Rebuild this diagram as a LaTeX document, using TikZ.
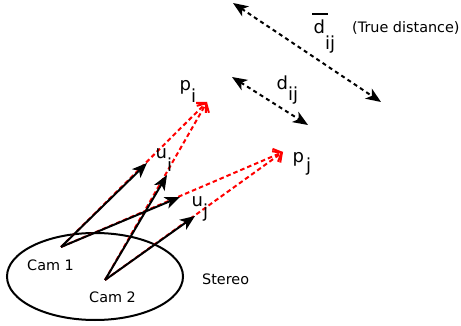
\documentclass[tikz,border=0pt]{standalone}
\usepackage{fontspec}
\setmainfont{DejaVu Sans}
\usetikzlibrary{arrows.meta,calc}
\begin{document}
\begin{tikzpicture}[x=1pt,y=-1pt,
  camray/.style={line width=2pt,-{Stealth[length=15pt,width=12pt,inset=4pt]}},
  redray/.style={red,line width=2pt,dash pattern=on 4.5pt off 3pt,-{Straight Barb[length=7pt,width=14pt,line width=2pt]}},
  distarrow/.style={line width=2pt,dash pattern=on 4pt off 3.5pt,{Stealth[length=15pt,width=12pt,inset=4pt]}-{Stealth[length=15pt,width=12pt,inset=4pt]}},
  small/.style={inner sep=0pt,anchor=base west,font=\fontsize{14.4}{16}\selectfont},
  big/.style={inner sep=0pt,anchor=base west,font=\fontsize{18}{20}\selectfont}]
\useasboundingbox (0,0) rectangle (461,326);
% stereo rig
\draw[line width=2pt] (95,276.5) ellipse [x radius=88, y radius=43.5];
\coordinate (cam1) at (61,247);
\coordinate (cam2) at (105,280);
\coordinate (pi) at (207,102);
\coordinate (pj) at (283,152);
\coordinate (ui1) at (147,163);
\coordinate (ui2) at (167,175);
\coordinate (uj1) at (180,197);
\coordinate (uj2) at (195,216);
% red rays
\draw[redray] (cam1) -- (pi);
\draw[redray] (cam2) -- (pi);
\draw[redray] (cam1) -- (pj);
\draw[redray] (cam2) -- (pj);
% black image rays
\draw[camray] (cam1) -- (ui1);
\draw[camray] (cam2) -- (ui2);
\draw[camray] (cam1) -- (uj1);
\draw[camray] (cam2) -- (uj2);
% distances
\coordinate (da) at (233,3);
\coordinate (db) at (381,102);
\coordinate (dc) at (232,77);
\coordinate (dd) at (308,125);
\draw[distarrow] (da) -- (db);
\draw[distarrow] (dc) -- (dd);
% labels
\node[small] (c1) at (27,270) {Cam 1};
\node[small] (c2) at (89,302) {Cam 2};
\node[small] (st) at (202,284) {Stereo};
\node[small] (td) at (352,32.5) {(True distance)};
\node[big] (lpi) at (179.5,91) {p\raisebox{-12pt}{i}};
\node[big] (lpj) at (292.5,163) {p\kern2pt\raisebox{-9pt}{j}};
\node[big] (ldbar) at (313.5,34) {d\raisebox{-16pt}{ij}};
\draw[line width=2pt] (312,14) -- (328,14);
\node[big] (ldij) at (276.5,90) {d\raisebox{-11pt}{ij}};
\node[big] (lui) at (155.5,159) {u\raisebox{-13pt}{i}};
\node[big] (luj) at (191.5,207) {u\raisebox{-11pt}{j}};
\end{tikzpicture}
\end{document}
